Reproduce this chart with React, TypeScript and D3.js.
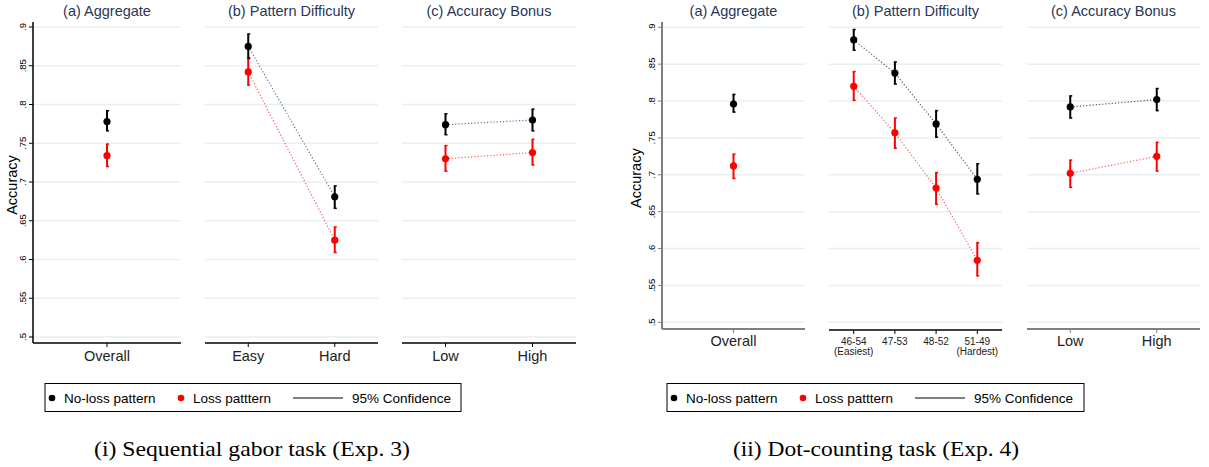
import React from "react";
import { scaleLinear, scalePoint, line } from "d3";

// Exp. 3 (sequential gabor task) -- each point: [mean, ci low, ci high]
const e3AggCats = ["Overall"];
const e3DiffCats = ["Easy", "Hard"];
const e3BonusCats = ["Low", "High"];
const e3AggNoLoss = [[0.778, 0.766, 0.792]];
const e3AggLoss = [[0.734, 0.72, 0.749]];
const e3DiffNoLoss = [[0.875, 0.86, 0.891], [0.681, 0.666, 0.695]];
const e3DiffLoss = [[0.842, 0.825, 0.859], [0.625, 0.609, 0.642]];
const e3BonusNoLoss = [[0.774, 0.761, 0.788], [0.78, 0.766, 0.794]];
const e3BonusLoss = [[0.73, 0.714, 0.747], [0.738, 0.722, 0.755]];

// Exp. 4 (dot-counting task)
const e4AggCats = ["Overall"];
const e4DiffCats = ["46-54", "47-53", "48-52", "51-49"];
const e4DiffSub = ["(Easiest)", "", "", "(Hardest)"];
const e4BonusCats = ["Low", "High"];
const e4AggNoLoss = [[0.796, 0.785, 0.809]];
const e4AggLoss = [[0.712, 0.695, 0.728]];
const e4DiffNoLoss = [[0.883, 0.869, 0.897], [0.838, 0.823, 0.853], [0.769, 0.751, 0.787], [0.694, 0.674, 0.715]];
const e4DiffLoss = [[0.82, 0.801, 0.84], [0.757, 0.736, 0.777], [0.682, 0.66, 0.703], [0.584, 0.563, 0.608]];
const e4BonusNoLoss = [[0.792, 0.777, 0.807], [0.802, 0.787, 0.817]];
const e4BonusLoss = [[0.702, 0.683, 0.72], [0.725, 0.705, 0.744]];

const yTicks = [0.5, 0.55, 0.6, 0.65, 0.7, 0.75, 0.8, 0.85, 0.9];
const yTickLabels = [".5", ".55", ".6", ".65", ".7", ".75", ".8", ".85", ".9"];
const panelTitles = ["(a) Aggregate", "(b) Pattern Difficulty", "(c) Accuracy Bonus"];
const legendLabels = ["No-loss pattern", "Loss patttern", "95% Confidence"];
const captions = ["(i) Sequential gabor task (Exp. 3)", "(ii) Dot-counting task (Exp. 4)"];

const SANS = "'Liberation Sans', Arial, sans-serif";
const TITLE_COL = "#2a3654";
const GRID_COL = "#e9f0f1";

type Pt = number[];

function Panel(p: any) {
  const { x0, x1, y, axisY, axisTop, cats, sub, pad, noLoss, loss, title, axisCol, axisW, tickSize, tickBase, lineCols, yAxis } = p;
  const x = scalePoint<string>().domain(cats).range([x0, x1]).padding(pad);
  const mk = line<Pt>()
    .x((d, i) => x(cats[i]) as number)
    .y((d) => y(d[0]));
  const series = [
    { data: loss, col: "#ff0000", lc: lineCols[1] },
    { data: noLoss, col: "#000000", lc: lineCols[0] },
  ];
  return (
    <g>
      <text x={(x0 + x1) / 2} y={16} textAnchor="middle" fontSize={14.5} fill={TITLE_COL} fontFamily={SANS}>
        {title}
      </text>
      {yTicks.map((t) => (
        <line key={t} x1={x0} x2={x1} y1={y(t)} y2={y(t)} stroke={GRID_COL} strokeWidth={1.5} />
      ))}
      {yAxis && (
        <g>
          <line x1={x0} x2={x0} y1={axisTop} y2={axisY} stroke={axisCol} strokeWidth={axisW} />
          {yTicks.map((t, i) => (
            <g key={t}>
              <line x1={x0 - 4} x2={x0} y1={y(t)} y2={y(t)} stroke={axisCol} strokeWidth={1} />
              <text
                transform={`translate(${x0 - 7},${y(t)}) rotate(-90)`}
                textAnchor="middle"
                fontSize={9.5}
                fontFamily={SANS}
                fill="#000"
              >
                {yTickLabels[i]}
              </text>
            </g>
          ))}
        </g>
      )}
      <line x1={x0} x2={x1} y1={axisY} y2={axisY} stroke={axisCol} strokeWidth={axisW} />
      {cats.map((c: string, i: number) => (
        <g key={c}>
          <line x1={x(c)} x2={x(c)} y1={axisY} y2={axisY + 4} stroke={axisCol} strokeWidth={1} />
          <text x={x(c)} y={axisY + tickBase} textAnchor="middle" fontSize={tickSize} fontFamily={SANS} fill="#222">
            {c}
          </text>
          {sub && sub[i] && (
            <text x={x(c)} y={axisY + tickBase + 10} textAnchor="middle" fontSize={tickSize} fontFamily={SANS} fill="#222">
              {sub[i]}
            </text>
          )}
        </g>
      ))}
      {series.map((s, k) =>
        s.data.length > 1 ? (
          <path key={"l" + k} d={mk(s.data) || ""} fill="none" stroke={s.lc} strokeWidth={1.2} strokeDasharray="1.2,2" />
        ) : null
      )}
      {series.map((s, k) =>
        s.data.map((d: Pt, i: number) => {
          const cx = x(cats[i]) as number;
          return (
            <g key={k + "-" + i}>
              <line x1={cx} x2={cx} y1={y(d[1])} y2={y(d[2])} stroke={s.col} strokeWidth={2} />
              <line x1={cx - 1} x2={cx + 2} y1={y(d[1])} y2={y(d[1])} stroke={s.col} strokeWidth={1.5} />
              <line x1={cx - 1} x2={cx + 2} y1={y(d[2])} y2={y(d[2])} stroke={s.col} strokeWidth={1.5} />
              <circle cx={cx} cy={y(d[0])} r={3.6} fill={s.col} />
            </g>
          );
        })
      )}
    </g>
  );
}

function Legend({ x0, x1 }: { x0: number; x1: number }) {
  const cy = 398;
  return (
    <g fontFamily={SANS} fontSize={13.5}>
      <rect x={x0} y={383.5} width={x1 - x0} height={28} fill="#fff" stroke="#000" strokeWidth={1} />
      <circle cx={x0 + 7} cy={cy} r={3.3} fill="#000" />
      <text x={x0 + 19} y={cy + 5}>{legendLabels[0]}</text>
      <circle cx={x0 + 136} cy={cy} r={3.3} fill="#ff0000" />
      <text x={x0 + 148} y={cy + 5}>{legendLabels[1]}</text>
      <line x1={x0 + 248} x2={x0 + 298} y1={cy} y2={cy} stroke="#000" strokeWidth={1} />
      <text x={x0 + 307} y={cy + 5}>{legendLabels[2]}</text>
    </g>
  );
}

function Figure(props: any) {
  const { top, bottom, axisY, axisTop, panels, accX, tickSize, tickBase, lineCols, axisCols, axisWs, caption, capX, capW, legend } = props;
  const y = scaleLinear().domain([0.5, 0.9]).range([bottom, top]);
  return (
    <g>
      <text
        transform={`translate(${accX},${(top + axisY) / 2}) rotate(-90)`}
        textAnchor="middle"
        fontSize={14.5}
        fontFamily={SANS}
      >
        Accuracy
      </text>
      {panels.map((pn: any, i: number) => (
        <Panel
          key={i}
          {...pn}
          y={y}
          axisY={axisY + (pn.dy || 0)}
          axisTop={axisTop}
          title={panelTitles[i]}
          axisCol={axisCols[i]}
          axisW={axisWs[i]}
          tickSize={pn.tickSize || tickSize}
          tickBase={pn.tickBase || tickBase}
          lineCols={lineCols}
          yAxis={i === 0}
        />
      ))}
      <Legend x0={legend[0]} x1={legend[1]} />
      <text
        x={capX - capW / 2}
        y={456}
        fontSize={21}
        fontFamily="'Liberation Serif', 'Times New Roman', serif"
        textLength={capW}
        lengthAdjust="spacingAndGlyphs"
      >
        {caption}
      </text>
    </g>
  );
}

export default function App() {
  return (
    <svg width={1209} height={467} style={{ position: "absolute", left: 0, top: 0, background: "#fff" }}>
      <rect width={1209} height={467} fill="#fff" />
      <Figure
        top={27}
        bottom={337}
        axisY={343}
        axisTop={22}
        accX={17}
        tickSize={14.5}
        tickBase={18}
        lineCols={["#56779a", "#ff5a5a"]}
        axisCols={["#000", "#000", "#000"]}
        axisWs={[1.5, 1.5, 1.5]}
        caption={captions[0]}
        capX={252}
        capW={316}
        legend={[45, 461]}
        panels={[
          { x0: 33, x1: 181, cats: e3AggCats, pad: 0.5, noLoss: e3AggNoLoss, loss: e3AggLoss },
          { x0: 205, x1: 378, cats: e3DiffCats, pad: 0.5, noLoss: e3DiffNoLoss, loss: e3DiffLoss },
          { x0: 402, x1: 576, cats: e3BonusCats, pad: 0.5, noLoss: e3BonusNoLoss, loss: e3BonusLoss },
        ]}
      />
      <Figure
        top={27.3}
        bottom={322.3}
        axisY={329}
        axisTop={22}
        accX={641}
        tickSize={14.5}
        tickBase={17}
        lineCols={["#555555", "#ff5a5a"]}
        axisCols={["#808080", "#000", "#808080"]}
        axisWs={[2, 1.3, 2]}
        caption={captions[1]}
        capX={876}
        capW={286}
        legend={[667, 1084]}
        panels={[
          { x0: 662, x1: 805, cats: e4AggCats, pad: 0.5, noLoss: e4AggNoLoss, loss: e4AggLoss },
          { x0: 829, x1: 1002, cats: e4DiffCats, sub: e4DiffSub, pad: 0.6, noLoss: e4DiffNoLoss, loss: e4DiffLoss, dy: 1, tickSize: 10, tickBase: 15 },
          { x0: 1027, x1: 1200, cats: e4BonusCats, pad: 0.5, noLoss: e4BonusNoLoss, loss: e4BonusLoss },
        ]}
      />
    </svg>
  );
}
